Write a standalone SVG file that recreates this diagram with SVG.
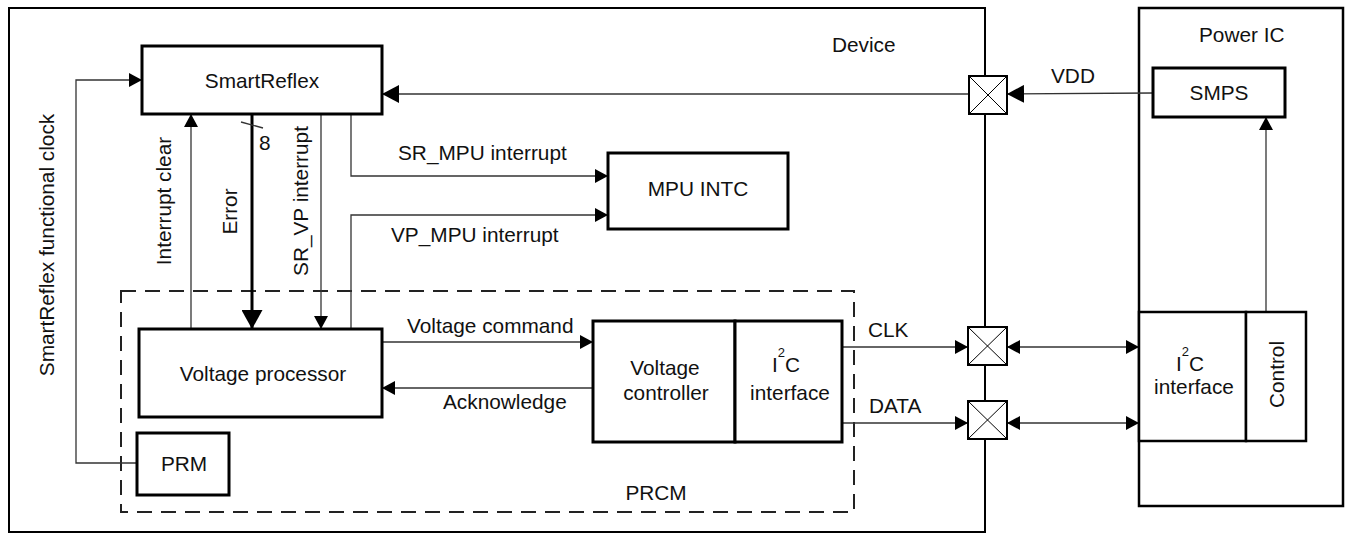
<svg xmlns="http://www.w3.org/2000/svg" width="1346" height="534" viewBox="0 0 1346 534">
<defs>
<style>
text{font-family:"Liberation Sans",Arial,sans-serif;font-size:20.8px;fill:#111}
.c{text-anchor:middle}
.box{fill:#fff;stroke:#000;stroke-width:3}
.frame{fill:none;stroke:#000;stroke-width:2}
.thin{fill:none;stroke:#333;stroke-width:1.3}
.pad{fill:#fff;stroke:#000;stroke-width:2}
.x{stroke:#000;stroke-width:1}
</style>
<marker id="a" markerWidth="13" markerHeight="14" refX="13" refY="7" orient="auto-start-reverse" markerUnits="userSpaceOnUse"><path d="M0,0 L13,7 L0,14 z" fill="#000"/></marker>
<marker id="b" markerWidth="17" markerHeight="18" refX="17" refY="9" orient="auto" markerUnits="userSpaceOnUse"><path d="M0,0 L17,9 L0,18 z" fill="#000"/></marker>
<marker id="e" markerWidth="19" markerHeight="21" refX="19" refY="10.5" orient="auto" markerUnits="userSpaceOnUse"><path d="M0,0 L19,10.5 L0,21 z" fill="#000"/></marker>
</defs>

<g id="device">
<rect class="frame" x="9" y="8" width="976" height="524"/>
<text x="832" y="52">Device</text>
</g>
<g id="power-ic">
<rect class="frame" x="1139" y="8" width="204" height="498" style="stroke-width:2.5"/>
<text x="1199" y="42">Power IC</text>
</g>
<g id="prcm">
<rect x="121" y="291" width="733" height="221" fill="none" stroke="#222" stroke-width="2" stroke-dasharray="15 9"/>
<text class="c" x="656" y="500">PRCM</text>
</g>

<g id="connectors">
<path class="thin" d="M137,463 H76 V80 H142" marker-end="url(#a)"/>
<path class="thin" d="M191,329 V114" marker-end="url(#a)"/>
<path d="M252,114 V329" fill="none" stroke="#000" stroke-width="3" marker-end="url(#e)"/>
<path class="thin" d="M241,122 L263,128" stroke="#000"/>
<path class="thin" d="M321,114 V329" marker-end="url(#a)"/>
<path class="thin" d="M351,114 V176 H608" marker-end="url(#a)"/>
<path class="thin" d="M351,329 V215 H608" marker-end="url(#a)"/>
<path class="thin" d="M969,94 H382" marker-end="url(#b)"/>
<path class="thin" d="M1153,93 L1007,94" marker-end="url(#b)"/>
<path class="thin" d="M1266,312 V117" marker-end="url(#a)"/>
<path class="thin" d="M382,342 H593" marker-end="url(#a)"/>
<path class="thin" d="M593,388 H382" marker-end="url(#a)"/>
<path class="thin" d="M842,347 H968" marker-end="url(#a)"/>
<path class="thin" d="M842,423 H968" marker-end="url(#a)"/>
<path class="thin" d="M1007,347 H1139" marker-start="url(#a)" marker-end="url(#a)"/>
<path class="thin" d="M1007,423 H1139" marker-start="url(#a)" marker-end="url(#a)"/>
</g>

<g id="labels">
<text x="398" y="160">SR_MPU interrupt</text>
<text x="391" y="242">VP_MPU interrupt</text>
<text x="1051" y="83">VDD</text>
<text x="259" y="150">8</text>
<text x="407" y="333">Voltage command</text>
<text x="443" y="409">Acknowledge</text>
<text x="868" y="337">CLK</text>
<text x="869" y="413">DATA</text>
<text class="c" transform="translate(54,245) rotate(-90)">SmartReflex functional clock</text>
<text class="c" transform="translate(171,201) rotate(-90)">Interrupt clear</text>
<text class="c" transform="translate(237,211.5) rotate(-90)">Error</text>
<text class="c" transform="translate(308,201) rotate(-90)">SR_VP interrupt</text>
</g>

<g id="smartreflex">
<rect class="box" x="142" y="46" width="240" height="68"/>
<text class="c" x="262" y="88">SmartReflex</text>
</g>
<g id="mpu-intc">
<rect class="box" x="608" y="153" width="180" height="76"/>
<text class="c" x="698" y="196">MPU INTC</text>
</g>
<g id="voltage-processor">
<rect class="box" x="139" y="329" width="243" height="88"/>
<text class="c" x="263" y="381">Voltage processor</text>
</g>
<g id="prm">
<rect class="box" x="137" y="433" width="92" height="62"/>
<text class="c" x="184" y="471">PRM</text>
</g>
<g id="voltage-controller">
<rect class="box" x="593" y="321" width="142" height="121"/>
<text class="c" x="665" y="375">Voltage</text>
<text class="c" x="666" y="400">controller</text>
</g>
<g id="device-i2c">
<rect class="box" x="735" y="321" width="107" height="121"/>
<text x="772" y="372">I<tspan font-size="13" dy="-15">2</tspan><tspan dy="15">C</tspan></text>
<text class="c" x="790" y="400">interface</text>
</g>
<g id="pad-vdd">
<rect class="pad" x="969" y="76" width="38" height="38"/>
<path class="x" d="M969,76 L1007,114 M1007,76 L969,114"/>
</g>
<g id="pad-clk">
<rect class="pad" x="968" y="327" width="39" height="38"/>
<path class="x" d="M968,327 L1007,365 M1007,327 L968,365"/>
</g>
<g id="pad-data">
<rect class="pad" x="968" y="401" width="39" height="38"/>
<path class="x" d="M968,401 L1007,439 M1007,401 L968,439"/>
</g>
<g id="smps">
<rect class="box" x="1153" y="68" width="132" height="49"/>
<text class="c" x="1219" y="100">SMPS</text>
</g>
<g id="power-i2c">
<rect class="box" x="1139" y="312" width="107" height="129" style="stroke-width:2.5"/>
<text x="1176" y="371">I<tspan font-size="13" dy="-15">2</tspan><tspan dy="15">C</tspan></text>
<text class="c" x="1194" y="394">interface</text>
</g>
<g id="control">
<rect class="box" x="1246" y="312" width="60" height="129" style="stroke-width:2.5"/>
<text class="c" transform="translate(1284,374.5) rotate(-90)">Control</text>
</g>
</svg>
